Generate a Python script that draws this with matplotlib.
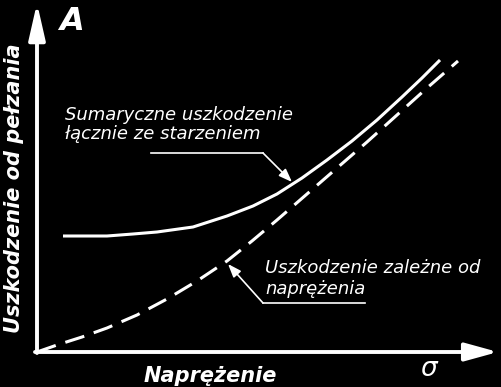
import matplotlib
matplotlib.use("Agg")
import matplotlib.pyplot as plt

# data (arbitrary units: stress sigma, creep damage A)
sum_sigma = [26, 70, 96, 120, 156, 190, 216, 240, 265, 290, 315, 340, 365, 385, 403]
sum_damage = [116, 116, 118, 120, 125, 136, 146, 158, 174, 192, 211, 232, 255, 274, 292]
str_sigma = [0, 20, 45, 70, 100, 130, 160, 190, 215, 240, 270, 300, 330, 360, 390, 421]
str_damage = [0, 7, 15, 24, 37, 53, 71, 91, 111, 132, 158, 184, 210, 237, 264, 291]

label_sum = ["Sumaryczne uszkodzenie", "łącznie ze starzeniem"]
label_str = ["Uszkodzenie zależne od", "naprężenia"]
xlabel = "Naprężenie"
ylabel = "Uszkodzenie od pełzania"

fig = plt.figure(figsize=(5.02, 3.87), dpi=100, facecolor="black")
ax = fig.add_axes([0, 0, 1, 1], facecolor="black")
ax.set_xlim(-37, 465)
ax.set_ylim(-35, 352)
ax.axis("off")

W = "white"
# axes with arrows
ax.annotate("", xy=(0, 349), xytext=(0, -1),
            arrowprops=dict(arrowstyle="-|>,head_length=2.2,head_width=0.5", color=W, lw=2.8,
                            shrinkA=0, shrinkB=0))
ax.annotate("", xy=(461, 0), xytext=(-2, 0),
            arrowprops=dict(arrowstyle="-|>,head_length=2.0,head_width=0.55", color=W, lw=2.8,
                            shrinkA=0, shrinkB=0))

# curves
ax.plot(sum_sigma, sum_damage, color=W, lw=2.2, solid_joinstyle="round", solid_capstyle="butt")
ax.plot(str_sigma, str_damage, color=W, lw=2.2, dashes=(6.5, 3.3), dash_capstyle="butt",
        dash_joinstyle="round")

tkw = dict(color=W, fontsize=13, style="italic", va="baseline", ha="left")
# annotations for solid curve
ax.text(28, 232, label_sum[0], **tkw)
ax.text(28, 213, label_sum[1], **tkw)
ax.plot([114, 226], [199, 199], color=W, lw=1.2)
ax.annotate("", xy=(255, 170), xytext=(226, 199),
            arrowprops=dict(arrowstyle="-|>,head_length=0.8,head_width=0.3", color=W, lw=1.2,
                            shrinkA=0, shrinkB=0))

# annotations for dashed curve
ax.text(228, 79, label_str[0], **tkw)
ax.text(228, 58, label_str[1], **tkw)
ax.plot([226, 328], [49, 49], color=W, lw=1.2)
ax.annotate("", xy=(191, 88), xytext=(226, 49),
            arrowprops=dict(arrowstyle="-|>,head_length=0.8,head_width=0.3", color=W, lw=1.2,
                            shrinkA=0, shrinkB=0))

# axis labels
ax.text(173, -30, xlabel, color=W, fontsize=15, style="italic", fontweight="bold",
        ha="center", va="baseline")
ax.text(-23, 164, ylabel, color=W, fontsize=15, style="italic", fontweight="bold",
        ha="center", va="center", rotation=90)
ax.text(392, -17, "σ", color=W, fontsize=19, style="italic", ha="center", va="center")
ax.text(34, 331, "A", color=W, fontsize=23, style="italic", fontweight="bold",
        ha="center", va="center")

fig.savefig("out.png", dpi=100, facecolor="black")
